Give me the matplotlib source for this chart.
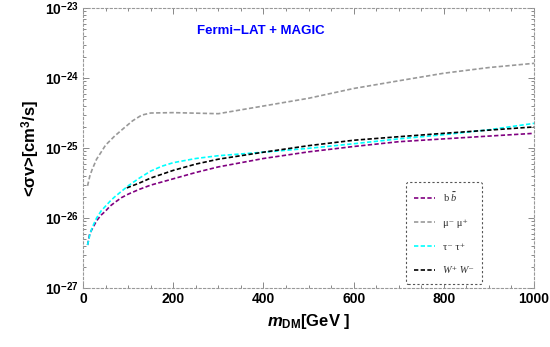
import matplotlib
matplotlib.use("Agg")
import matplotlib.pyplot as plt
from matplotlib.ticker import FixedLocator, LogLocator, NullFormatter, MultipleLocator

plt.rcParams["font.family"] = ["Liberation Sans", "DejaVu Sans"]
plt.rcParams["mathtext.fontset"] = "custom"
plt.rcParams["mathtext.rm"] = "Liberation Sans:bold"
plt.rcParams["mathtext.bf"] = "Liberation Sans:bold"
plt.rcParams["mathtext.it"] = "Liberation Serif:italic"
plt.rcParams["mathtext.bfit"] = "Liberation Sans:italic:bold"

# annihilation cross-section limits, cm^3/s
M_BB = [10, 15, 20, 30, 40, 50, 60, 70, 85, 100, 125, 150, 200, 250, 300,
        400, 500, 600, 700, 800, 900, 1000]
SV_BB = [4.11e-27, 6.03e-27, 6.92e-27, 9.12e-27, 1.10e-26, 1.26e-26, 1.48e-26, 1.66e-26,
         1.95e-26, 2.19e-26, 2.57e-26, 2.95e-26, 3.63e-26, 4.47e-26, 5.37e-26,
         7.08e-26, 8.81e-26, 1.05e-25, 1.23e-25, 1.35e-25, 1.48e-25, 1.62e-25]

M_MU = [10, 15, 20, 30, 40, 50, 70, 90, 110, 130, 150, 200, 300,
        400, 500, 600, 700, 800, 900, 1000]
SV_MU = [2.88e-26, 3.98e-26, 4.90e-26, 6.92e-26, 8.71e-26, 1.10e-25, 1.48e-25, 1.91e-25,
         2.45e-25, 2.95e-25, 3.16e-25, 3.20e-25, 3.09e-25,
         3.98e-25, 5.13e-25, 7.08e-25, 9.12e-25, 1.17e-24, 1.41e-24, 1.62e-24]

M_TAU = [10, 15, 20, 30, 40, 50, 60, 70, 85, 100, 125, 150, 175, 200, 250, 300,
         400, 500, 600, 700, 800, 900, 1000]
SV_TAU = [4.11e-27, 5.75e-27, 7.24e-27, 1.00e-26, 1.26e-26, 1.48e-26, 1.74e-26, 2.00e-26,
          2.40e-26, 2.88e-26, 3.72e-26, 4.68e-26, 5.50e-26, 6.17e-26, 7.08e-26, 7.76e-26,
          8.71e-26, 9.89e-26, 1.15e-25, 1.35e-25, 1.55e-25, 1.82e-25, 2.25e-25]

M_WW = [97, 125, 150, 200, 250, 300, 400, 500, 600, 700, 800, 900, 1000]
SV_WW = [2.69e-26, 3.16e-26, 3.72e-26, 4.79e-26, 5.89e-26, 6.92e-26, 8.71e-26, 1.08e-25,
         1.29e-25, 1.45e-25, 1.62e-25, 1.80e-25, 2.00e-25]

Y_TICKS = [1e-27, 1e-26, 1e-25, 1e-24, 1e-23]
Y_LABELS = [r"$10^{-27}$", r"$10^{-26}$", r"$10^{-25}$", r"$10^{-24}$", r"$10^{-23}$"]

fig = plt.figure(figsize=(5.5, 3.47), dpi=100)
ax = fig.add_axes([0.151, 0.170, 0.820, 0.807])

dash = (0, (2.6, 1.4))
lw = 1.2
ax.plot(M_BB, SV_BB, color="#800080", lw=lw, ls=dash, label=r"b $\bar{b}$")
ax.plot(M_MU, SV_MU, color="#999999", lw=lw, ls=dash, label="μ⁻ μ⁺")
ax.plot(M_TAU, SV_TAU, color="#00ffff", lw=lw, ls=dash, label="τ⁻ τ⁺")
ax.plot(M_WW, SV_WW, color="black", lw=lw, ls=dash, label="W⁺ W⁻")

ax.set_yscale("log")
ax.set_xlim(0, 1000)
ax.set_ylim(1e-27, 1e-23)

ax.xaxis.set_major_locator(MultipleLocator(200))
ax.xaxis.set_minor_locator(MultipleLocator(50))
ax.yaxis.set_major_locator(FixedLocator(Y_TICKS))
ax.set_yticklabels(Y_LABELS)
ax.yaxis.set_minor_locator(LogLocator(base=10, subs=range(2, 10)))
ax.yaxis.set_minor_formatter(NullFormatter())

ax.tick_params(which="both", direction="in", color="#888888", top=True, right=True,
               labelsize=10, width=0.7)
ax.tick_params(which="major", length=4, pad=3)
ax.tick_params(which="minor", length=2)
for lab in ax.get_xticklabels():
    lab.set_fontweight("bold")

for sp in ax.spines.values():
    sp.set_linestyle((0, (2, 2)))
    sp.set_color("#999999")
    sp.set_linewidth(0.8)

ax.set_xlabel(r"$\mathbfit{m}_{\mathbf{DM}}$[GeV ]", fontsize=12, fontweight="bold", labelpad=4)
ax.set_ylabel(r"<σv>[cm$^{3}$/s]", fontsize=12, fontweight="bold", labelpad=2)

ax.text(253, 10 ** -23.33, "Fermi−LAT + MAGIC", color="blue", fontsize=9.5,
        fontweight="bold", va="center", ha="left")

leg = ax.legend(loc="upper left", bbox_to_anchor=(0.715, 0.378), frameon=True,
                fancybox=True, handlelength=2.0, handletextpad=0.8,
                labelspacing=1.4, borderpad=0.8, borderaxespad=0,
                prop={"family": ["Liberation Serif", "DejaVu Serif"], "size": 7.5})
frame = leg.get_frame()
frame.set_linestyle((0, (2, 2)))
frame.set_edgecolor("#555555")
frame.set_linewidth(0.8)
frame.set_facecolor("white")
frame.set_alpha(1)
for txt in leg.get_texts():
    txt.set_color("#333333")
leg.get_texts()[3].set_style("italic")

fig.savefig("out.png", dpi=100)
